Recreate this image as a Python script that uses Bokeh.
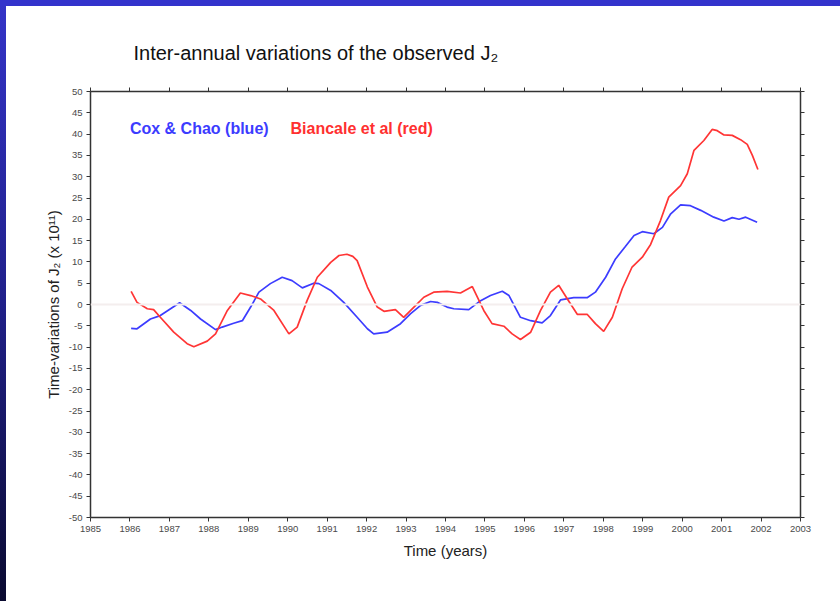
from bokeh.plotting import figure
from bokeh.models import Label, Span, LinearAxis, FixedTicker, Range1d
from bokeh.embed import file_html
from bokeh.resources import INLINE

# ---- data ----
cox_years = [1986.03, 1986.18, 1986.52, 1986.77, 1987.26, 1987.54, 1987.79, 1988.17, 1988.34,
             1988.63, 1988.85, 1989.06, 1989.27, 1989.56, 1989.86, 1990.11, 1990.37, 1990.66,
             1990.79, 1991.09, 1991.42, 1991.76, 1992.02, 1992.18, 1992.52, 1992.86, 1993.11,
             1993.37, 1993.62, 1993.79, 1994.04, 1994.21, 1994.59, 1994.89, 1995.14, 1995.44,
             1995.61, 1995.90, 1996.16, 1996.45, 1996.66, 1996.92, 1997.25, 1997.59, 1997.80,
             1998.06, 1998.31, 1998.56, 1998.78, 1998.99, 1999.28, 1999.50, 1999.71, 1999.96,
             2000.21, 2000.47, 2000.80, 2001.06, 2001.27, 2001.44, 2001.61, 2001.90]
cox_values = [-5.6, -5.7, -3.4, -2.6, 0.4, -1.4, -3.4, -5.9, -5.3,
              -4.4, -3.8, -0.6, 2.9, 4.9, 6.4, 5.6, 3.9, 5.0,
              4.9, 3.3, 0.5, -3.0, -5.7, -6.9, -6.5, -4.5, -2.2,
              -0.2, 0.7, 0.5, -0.6, -1.0, -1.2, 0.9, 2.1, 3.1,
              2.1, -3.0, -3.8, -4.3, -2.6, 1.1, 1.6, 1.6, 2.9,
              6.4, 10.7, 13.6, 16.2, 17.1, 16.6, 18.1, 21.3, 23.4,
              23.2, 22.1, 20.5, 19.6, 20.4, 20.0, 20.5, 19.3]

bia_years = [1986.03, 1986.18, 1986.44, 1986.60, 1986.77, 1987.11, 1987.45, 1987.62, 1987.96,
             1988.17, 1988.47, 1988.80, 1989.06, 1989.31, 1989.65, 1990.03, 1990.24, 1990.49,
             1990.75, 1991.09, 1991.30, 1991.50, 1991.65, 1991.76, 1992.02, 1992.27, 1992.44,
             1992.73, 1992.94, 1993.20, 1993.45, 1993.70, 1994.04, 1994.38, 1994.68, 1994.97,
             1995.18, 1995.48, 1995.69, 1995.90, 1996.16, 1996.41, 1996.66, 1996.87, 1997.09,
             1997.34, 1997.59, 1997.80, 1998.01, 1998.23, 1998.48, 1998.73, 1998.99, 1999.20,
             1999.45, 1999.66, 1999.96, 2000.13, 2000.30, 2000.55, 2000.76, 2000.89, 2001.06,
             2001.27, 2001.48, 2001.65, 2001.78, 2001.92]
bia_values = [3.1, 0.5, -1.0, -1.2, -3.0, -6.5, -9.2, -9.9, -8.6,
              -6.9, -1.4, 2.7, 2.1, 1.3, -1.4, -6.9, -5.3, 0.9,
              6.4, 9.9, 11.5, 11.8, 11.3, 10.3, 4.1, -0.6, -1.6,
              -1.2, -3.0, -0.6, 1.7, 2.9, 3.1, 2.7, 4.2, -1.4,
              -4.5, -5.1, -6.9, -8.2, -6.5, -1.4, 2.9, 4.5, 1.3,
              -2.3, -2.3, -4.5, -6.3, -3.0, 3.7, 8.8, 11.1, 14.1,
              19.7, 25.2, 27.9, 30.7, 36.2, 38.5, 41.1, 40.8, 39.8,
              39.7, 38.7, 37.6, 35.0, 31.7]

year_ticks = list(range(1985, 2004))
value_ticks = list(range(-50, 55, 5))
value_tick_labels = {t: str(t) for t in value_ticks}

title_text = "Inter-annual variations of the observed J\u2082"
x_label = "Time (years)"
y_label = "Time-variations of J\u2082 (x 10\u00b9\u00b9)"
blue_label = "Cox & Chao (blue)"
red_label = "Biancale et al (red)"

FONT = "Liberation Sans"
AXC = "#333333"

p = figure(width=840, height=601,
           x_range=Range1d(1985, 2003), y_range=Range1d(-50, 50),
           output_backend="svg", toolbar_location=None,
           min_border_left=90, min_border_right=40,
           min_border_top=91, min_border_bottom=84,
           x_axis_label=x_label, y_axis_label=y_label,
           title=title_text)
p.grid.visible = False
p.outline_line_color = None
p.background_fill_color = "white"
p.border_fill_color = None
# slide frame: blue band on top, dark-blue gradient band on the left
p.styles = {
    "background-color": "white",
    "background-image": "linear-gradient(#3333cc, #3333cc), "
                        "linear-gradient(to bottom, #3434c8, #20208a 50%, #0a0a30)",
    "background-size": "100% 6px, 6px 100%",
    "background-repeat": "no-repeat",
}

p.title.text_font = FONT
p.title.text_font_size = "20px"
p.title.text_font_style = "normal"
p.title.text_color = "#111111"
p.title.align = "left"
p.title.offset = 43
p.title.standoff = 48

p.add_layout(LinearAxis(), "above")
p.add_layout(LinearAxis(), "right")

for ax in p.xaxis:
    ax.ticker = FixedTicker(ticks=year_ticks)
for ax in p.yaxis:
    ax.ticker = FixedTicker(ticks=value_ticks)

for ax in p.axis:
    ax.axis_line_color = AXC
    ax.axis_line_width = 1.5
    ax.major_tick_line_color = AXC
    ax.major_tick_line_width = 1
    ax.major_tick_out = 4
    ax.major_tick_in = 0
    ax.minor_tick_out = 0
    ax.minor_tick_in = 0
    ax.major_label_text_font = FONT
    ax.major_label_text_font_size = "9.5px"
    ax.major_label_text_color = "#4a4a4a"
    ax.major_label_standoff = 4
    ax.axis_label_text_font = FONT
    ax.axis_label_text_font_size = "15px"
    ax.axis_label_text_font_style = "normal"
    ax.axis_label_text_color = "#222222"

p.above[0].major_label_overrides = {t: "" for t in year_ticks}
p.right[0].major_label_overrides = {t: "" for t in value_ticks}
p.left[0].major_label_overrides = value_tick_labels
p.below[0].axis_label_standoff = 7
p.left[0].axis_label_standoff = 4

# faint zero line
p.add_layout(Span(location=0, dimension="width", line_color="#f4eeee", line_width=2))

p.line(cox_years, cox_values, line_color="#3c3cff", line_width=1.7)
p.line(bia_years, bia_values, line_color="#ff3535", line_width=1.7)

p.add_layout(Label(x=1986.0, y=41.3, text=blue_label, text_font=FONT, text_font_style="bold",
                   text_font_size="16px", text_baseline="middle", text_color="#3c3cff"))
p.add_layout(Label(x=1990.07, y=41.3, text=red_label, text_font=FONT, text_font_style="bold",
                   text_font_size="16px", text_baseline="middle", text_color="#ff3030"))

open("out.html", "w").write(file_html(p, INLINE))
